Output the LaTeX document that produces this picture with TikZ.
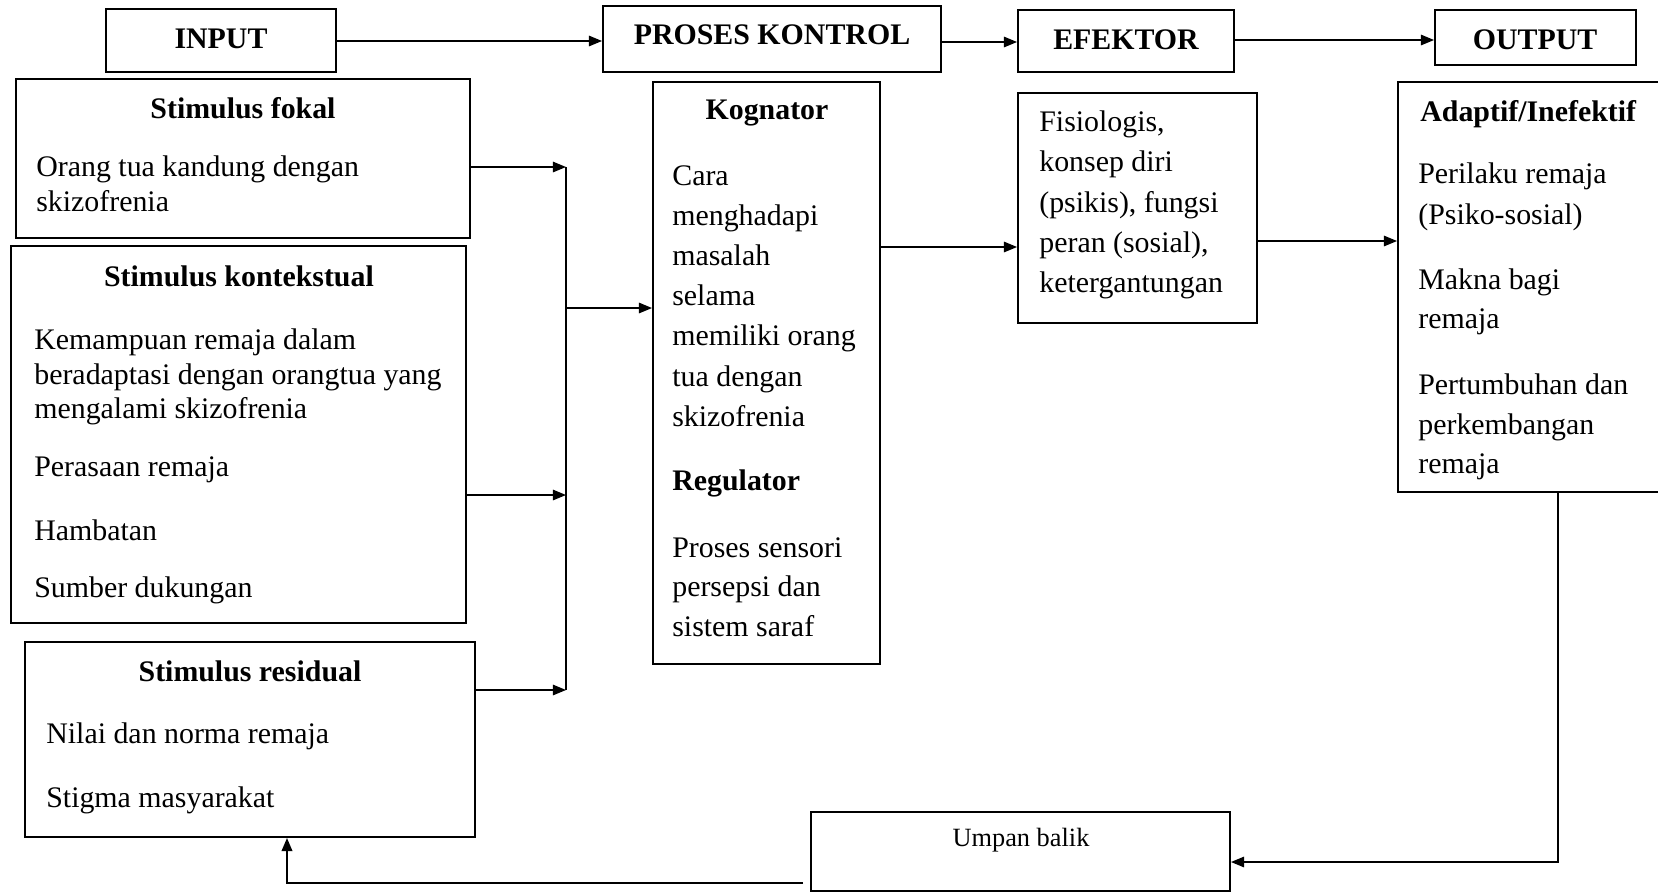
\documentclass[tikz,border=0pt]{standalone}
\usepackage{fontspec}
\setmainfont{Liberation Serif}
\usepackage{tikz}
\usetikzlibrary{arrows.meta,fit}

\begin{document}
\begin{tikzpicture}[
    x=0.02cm, y=-0.02cm,
    >={Triangle[length=7.5pt,width=6pt]},
    box/.style={draw, line width=1.1pt, inner sep=0pt},
    arr/.style={->, line width=0.8pt},
    head/.style={font=\bfseries\fontsize{17}{20}\selectfont, inner sep=0pt},
    body/.style={font=\fontsize{17}{#1}\selectfont, align=left, anchor=west, inner sep=0pt},
    body/.default=20
]
\clip (0,0) rectangle (1658,894);
% top row
\node[box, fit={(106,9) (336,72)}] (input) {};
\node[box, fit={(603,6) (941,72)}] (proses) {};
\node[box, fit={(1018,10) (1234,72)}] (efektor) {};
\node[box, fit={(1435,10) (1636,65)}] (output) {};
\node[head] (inputT) at (221,39) {INPUT};
\node[head] (prosesT) at (772,35) {PROSES KONTROL};
\node[head] (efektorT) at (1126,40) {EFEKTOR};
\node[head] (outputT) at (1535,40) {OUTPUT};
% input side
\node[box, fit={(16,79) (470,238)}] (fokal) {};
\node[box, fit={(11,246) (466,623)}] (kontek) {};
\node[box, fit={(25,642) (475,837)}] (resid) {};
\node[head] (fokalT) at (243,108) {Stimulus fokal};
\node[body=19.9] (fokalP) at (36,184) {Orang tua kandung dengan\\skizofrenia};
\node[head] (kontekT) at (239,276) {Stimulus kontekstual};
\node[body=19.5] (kontekP) at (34,377) {Kemampuan remaja dalam\\beradaptasi dengan orangtua yang\\mengalami skizofrenia};
\node[body] (kontekA) at (34,470) {Perasaan remaja};
\node[body] (kontekB) at (34,530) {Hambatan};
\node[body] (kontekC) at (34,590) {Sumber dukungan};
\node[head] (residT) at (250,671) {Stimulus residual};
\node[body] (residA) at (46,736) {Nilai dan norma remaja};
\node[body] (residB) at (46,800) {Stigma masyarakat};
% proses kontrol
\node[box, fit={(653,82) (880,664)}] (kog) {};
\node[head] (kogT) at (767,113) {Kognator};
\node[body=22.9] (kogP) at (672,296) {Cara\\menghadapi\\masalah\\selama\\memiliki orang\\tua dengan\\skizofrenia};
\node[head, anchor=west] (regT) at (672,483) {Regulator};
\node[body=22.6] (regP) at (672,587) {Proses sensori\\persepsi dan\\sistem saraf};
% efektor and output
\node[box, fit={(1018,93) (1257,323)}] (fisio) {};
\node[body=22.9] (fisioP) at (1039,205) {Fisiologis,\\konsep diri\\(psikis), fungsi\\peran (sosial),\\ketergantungan};
\node[box, fit={(1398,82) (1680,492)}] (adaptif) {};
\node[head, anchor=west] (adaptifT) at (1420,114) {Adaptif/Inefektif};
\node[body=23.3] (adaptifA) at (1418,197) {Perilaku remaja\\(Psiko-sosial)};
\node[body=22.2] (adaptifB) at (1418,302) {Makna bagi\\remaja};
\node[body=22.5] (adaptifC) at (1418,427) {Pertumbuhan dan\\perkembangan\\remaja};
% feedback
\node[box, fit={(811,812) (1230,891)}] (umpan) {};
\node[font=\fontsize{15}{18}\selectfont, inner sep=0pt] (umpanT) at (1021,840) {Umpan balik};
% connectors
\draw[arr] (input.east |- 0,41) -- (proses.west |- 0,41);
\draw[arr] (proses.east |- 0,42) -- (efektor.west |- 0,42);
\draw[arr] (efektor.east |- 0,40) -- (output.west |- 0,40);
\coordinate (busT) at (566,167);
\coordinate (busM) at (566,495);
\coordinate (busB) at (566,690);
\coordinate (busK) at (566,308);
\draw[line width=0.8pt] (busT) -- (busB);
\draw[arr] (fokal.east |- busT) -- (busT);
\draw[arr] (kontek.east |- busM) -- (busM);
\draw[arr] (resid.east |- busB) -- (busB);
\draw[arr] (busK) -- (busK -| kog.west);
\coordinate (k2f) at (880,247);
\draw[arr] (k2f) -- (k2f -| fisio.west);
\coordinate (f2a) at (1257,241);
\draw[arr] (f2a) -- (f2a -| adaptif.west);
\coordinate (fbR) at (1558,862);
\draw[arr] (adaptif.south -| fbR) -- (fbR) -- (fbR -| umpan.east);
\coordinate (fbL) at (287,883);
\draw[arr, line width=1.2pt] ([xshift=-4pt]umpan.west |- fbL) -| (fbL |- resid.south);
\end{tikzpicture}
\end{document}
